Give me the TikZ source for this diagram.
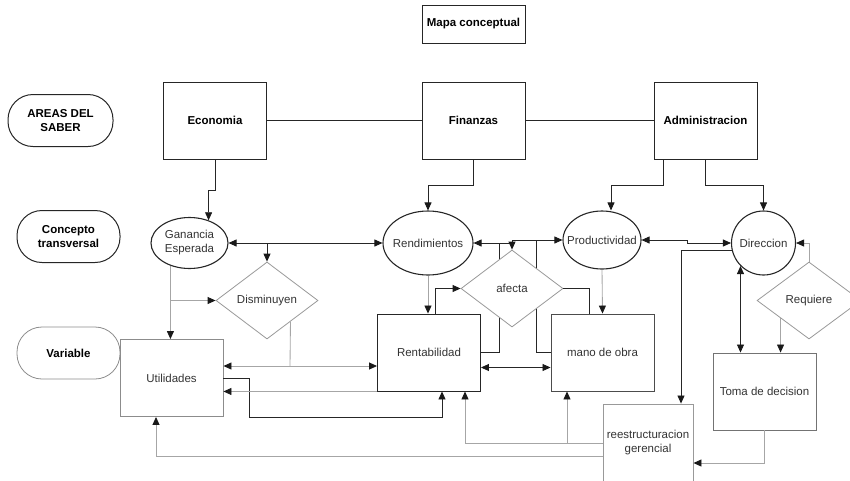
\documentclass[tikz,border=0pt]{standalone}
\usepackage{fontspec}
\setmainfont{Liberation Sans}
\usetikzlibrary{arrows.meta}
\usetikzlibrary{shapes.geometric}
\usetikzlibrary{backgrounds}

\begin{document}
\begin{tikzpicture}[x=1pt,y=-1pt,
    >={Triangle[length=8pt,width=7pt,color=black!90]},
    font=\fontsize{11.5}{14}\selectfont,
    every node/.style={text=black!80,align=center},
    area/.style={draw=black!85,line width=1pt,text=black,
      font=\fontsize{11.5}{14}\selectfont\bfseries,
      minimum width=103pt,minimum height=77pt,inner sep=0pt},
    tag/.style={area,rounded corners=25pt,minimum height=52pt},
    oval/.style={ellipse,draw=black!85,line width=1.1pt,inner sep=-8pt},
    choice/.style={diamond,draw=black!40,fill=white,line width=0.8pt,
      inner sep=0pt,minimum width=102pt,minimum height=77pt},
    box/.style={rectangle,line width=0.9pt,inner sep=2pt,
      minimum width=103pt,minimum height=77pt},
    link/.style={draw=black!85,line width=0.85pt},
    weak/.style={draw=black!35,line width=0.85pt}]
  \useasboundingbox (0,0) rectangle (850,480);

  % rows on the left
  \node[tag,minimum width=105pt] (areas) at (60.5,120.5) {AREAS DEL\\SABER};
  \node[tag] (concept) at (68.5,236.5) {Concepto\\transversal};
  \node[tag,draw=black!45,line width=0.8pt] (variable) at (68.5,353) {Variable};

  % areas
  \node[area,minimum height=38pt,line width=0.9pt] (title) at (473.5,24) {Mapa conceptual};
  \node[area] (econ) at (215,120.5) {Economia};
  \node[area] (fin) at (473.5,120.5) {Finanzas};
  \node[area] (admin) at (705.5,120.5) {Administracion};

  % concepts
  \node[oval,minimum width=77pt,minimum height=51pt] (gan) at (189.5,243) {Ganancia\\Esperada};
  \node[oval,minimum width=90pt,minimum height=64pt] (rend) at (428,243) {Rendimientos};
  \node[oval,minimum width=78pt,minimum height=58pt] (prod) at (602,240) {Productividad};
  \node[circle,draw=black!85,line width=1.1pt,minimum size=64pt,inner sep=0pt] (dir) at (763.5,243) {Direccion};

  \node[choice] (dism) at (267,300.5) {Disminuyen};
  \node[choice] (afecta) at (512,288.5) {afecta};
  \node[choice,minimum width=104pt] (req) at (809,300.5) {Requiere};

  % variables
  \node[box,draw=black!45] (util) at (171.5,378) {Utilidades};
  \node[box,draw=black!85] (rent) at (429,352.5) {Rentabilidad};
  \node[box,draw=black!70] (mano) at (602.5,352.5) {mano de obra};
  \node[box,draw=black!55] (toma) at (764.5,391.5) {Toma de decision};
  \node[box,draw=black!40,minimum width=90pt,minimum height=78pt] (reest) at (648,443) {reestructuracion\\gerencial};

  \coordinate (dj) at (290,366);
  \coordinate (rj) at (567,443);

  \draw[link] (econ) edge (fin)
        (fin) edge (admin);
  \draw[link,->] (econ.south) -- ++(0,31) -| (gan.50);
  \draw[link,->] (fin.south) -- ++(0,26) -| (rend.north);
  \draw[link,->] ([xshift=-42.5pt]admin.south) -- ++(0,26) -| ([xshift=9pt]prod.north);
  \draw[link,->] (admin.south) -- ++(0,26) -| (dir.north);

  \draw[link] (gan) edge[<->] (rend);
  \draw[link,->] (gan.east -| dism.north) -- (dism.north);
  \draw[link,<->] (rend.east) -- (rend.east -| afecta.north) |- (prod.west);
  \draw[link,->] (prod.west -| afecta.north) -- (afecta.north);
  \draw[link,<->] (prod.east) -- ++(46,0) |- (dir.west);
  \draw[link,->] ([xshift=6pt]rent.north) |- (afecta.west);
  \draw[link] (afecta.east) -| ([xshift=-13.5pt]mano.north);
  \begin{pgfonlayer}{background}
    \draw[link] (rent.east) -| ([xshift=26pt]rend.east);
    \draw[link] (mano.west) -| ([xshift=-26pt]prod.west);
  \end{pgfonlayer}
  \draw[link,<->] ([yshift=-15pt]rent.east) -- ([yshift=-15pt]mano.west);
  \draw[link,->] (util.east) -- ++(26,0) -- ++(0,39) -| ([xshift=13pt]rent.south);

  \draw[weak,->] (gan.230) -- (gan.230 |- util.north);
  \draw[weak,->] (gan.230 |- dism.west) -- (dism.west);
  \draw[weak] (dism.-42) -- (dj);
  \draw[weak] (dj) edge[->] (dj -| util.east)
        (dj) edge[->] (dj -| rent.west);
  \draw[weak] (rend.south) edge[->] (rend.south |- rent.north)
        (prod.south) edge[->] (mano.north);
  \draw[weak,->] (rent.south west) -- (rent.south west -| util.east);
  \draw[weak,->] (reest.west) -| ([xshift=36pt]rent.south);
  \draw[weak,->] (rj) -- (rj |- mano.south);
  \draw[weak,->] ([yshift=-13pt]reest.west) -| ([xshift=-15.5pt]util.south);

  \draw[link,->] (dir.194) -| ([xshift=33pt]reest.north);
  \draw[link,<->] (dir.225) -- (dir.225 |- toma.north);
  \draw[weak,->] (req.north) |- (dir.east);
  \draw[weak,->] (req.212) -- (req.212 |- toma.north);
  \draw[weak,->] (toma.south) |- ([yshift=-20pt]reest.east);
\end{tikzpicture}
\end{document}
